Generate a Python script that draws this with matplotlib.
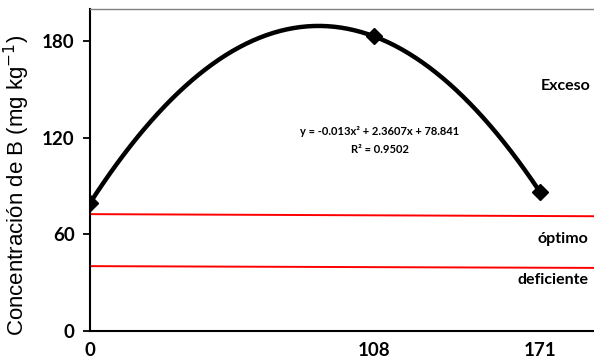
#!/usr/bin/env python3
"Concentración de boro frente a dosis, con ajuste cuadrático y rangos de suficiencia"

import numpy as np
import matplotlib
matplotlib.use("Agg")
import matplotlib.pyplot as plt

# Dosis aplicadas y concentración medida
dosis = [0, 108, 171]
concentracion = [79.5, 183, 86.3]

# Coeficientes del ajuste cuadrático publicado
coef = [-0.013, 2.3607, 78.841]
r2 = 0.9502

# Límites de los rangos (extremo izquierdo, extremo derecho)
limite_optimo = [72.6, 71.3]
limite_deficiente = [40.3, 39.2]

y_ticks = [0, 60, 120, 180]
x_ticks = [0, 108, 171]

TICK_FONT = "Lato"


def main():
    "Main function"
    fig = plt.figure(figsize=(5.94, 3.62), dpi=100)
    axes = fig.add_axes([0.1515, 0.0856, 0.8485, 0.8894])

    # Curva suavizada que pasa por los tres puntos
    xs = np.linspace(0, 171, 200)
    ys = np.polyval(np.polyfit(dosis, concentracion, 2), xs)
    axes.plot(xs, ys, color="black", linewidth=3.2, zorder=3)

    # Puntos observados
    axes.plot(dosis, concentracion, linestyle="none", marker="D",
              markersize=8, color="black", zorder=4)

    # Límites de los rangos
    x_end = 191.5
    axes.plot([0, x_end], limite_optimo, color="red", linewidth=1.4, zorder=2)
    axes.plot([0, x_end], limite_deficiente, color="red", linewidth=1.4, zorder=2)

    axes.set_xlim(0, x_end)
    axes.set_ylim(0, 200)
    axes.set_xticks(x_ticks)
    axes.set_yticks(y_ticks)
    axes.set_xticklabels([str(v) for v in x_ticks], fontfamily=TICK_FONT,
                         fontweight="bold", fontsize=13.5)
    axes.set_yticklabels([str(v) for v in y_ticks], fontfamily=TICK_FONT,
                         fontweight="bold", fontsize=13.5)
    axes.tick_params(axis="x", length=0, pad=8)
    axes.tick_params(axis="y", length=5, width=1.3, direction="out", pad=6)

    axes.spines["left"].set_linewidth(1.5)
    axes.spines["bottom"].set_linewidth(1.5)
    axes.spines["top"].set_color("#808080")
    axes.spines["top"].set_linewidth(1.0)
    axes.spines["right"].set_visible(False)

    axes.set_ylabel("Concentración de B (mg kg$^{-1}$)",
                    fontfamily="Liberation Sans", fontsize=16)
    axes.yaxis.set_label_coords(-0.115, 0.453)

    # Etiquetas de los rangos
    label_kw = dict(fontfamily=TICK_FONT, fontweight="bold", fontsize=11.5,
                    ha="right", va="center")
    axes.text(190, 152, "Exceso", **label_kw)
    axes.text(189.5, 57, "óptimo", **label_kw)
    axes.text(189.5, 31.5, "deficiente", **label_kw)

    # Ecuación del ajuste
    eq_kw = dict(fontfamily=TICK_FONT, fontweight="bold", fontsize=8,
                 ha="center", va="center")
    axes.text(110, 124,
              "y = %gx² + %gx + %g" % tuple(coef), **eq_kw)
    axes.text(110, 113, "R² = %g" % r2, **eq_kw)

    fig.savefig("out.png", dpi=100)


if __name__ == "__main__":
    main()
